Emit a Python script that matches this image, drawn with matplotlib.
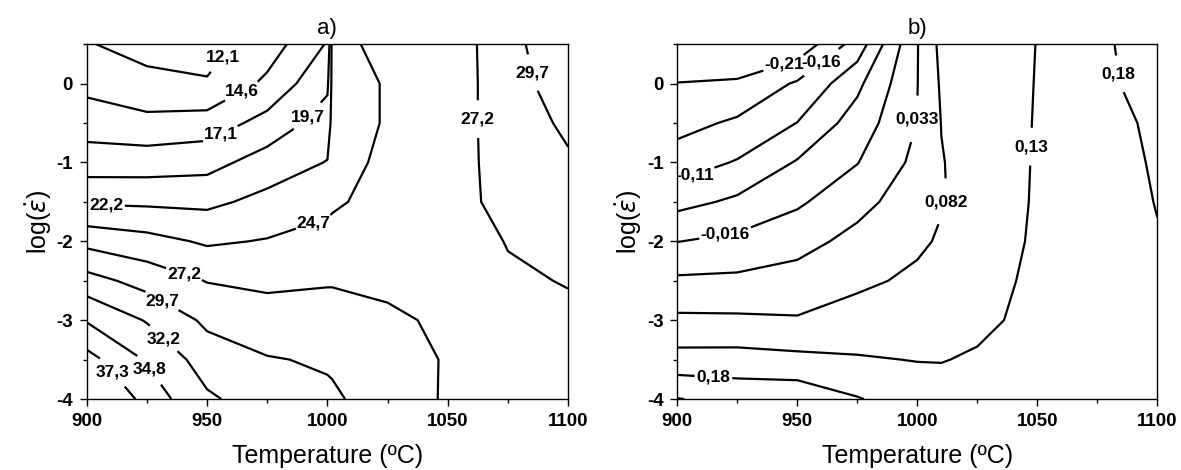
import numpy as np
import matplotlib
matplotlib.use('Agg')
import matplotlib.pyplot as plt
from matplotlib.ticker import MultipleLocator

plt.rcParams['font.family'] = ['Liberation Sans', 'DejaVu Sans']
plt.rcParams['axes.unicode_minus'] = False

# log strain rate rows (bottom -> top)
rates = [-4, -3.5, -3, -2.5, -2, -1.5, -1, -0.5, 0, 0.5]

# panel a) values, one list per temperature column (bottom -> top)
temps_a = [900, 925, 950, 975, 1000, 1002, 1025, 1050, 1075, 1100]
za_900 = [41.5, 38.2, 34.6, 30.65, 26.45, 21.9, 18.4, 15.9, 13.9, 12.3]
za_925 = [36.3, 34.55, 32.0, 28.75, 25.55, 21.76, 18.46, 15.24, 12.97, 11.0]
za_950 = [32.6, 30.98, 29.2, 27.1, 24.37, 21.65, 18.8, 15.7, 12.3, 11.2]
za_975 = [30.9, 29.85, 28.3, 26.7, 24.85, 22.9, 20.84, 18.0, 15.14, 13.3]
za_1000 = [30.1, 29.45, 28.2, 27.0, 25.6, 24.07, 22.3, 20.9, 19.2, 17.3]
za_1002 = [30.0, 29.4, 28.2, 27.0, 25.7, 24.3, 22.5, 22.9, 22.9, 23.0]
za_1025 = [28.7, 28.3, 27.6, 26.7, 26.1, 25.7, 25.9, 25.0, 25.0, 26.3]
za_1050 = [26.9, 27.0, 26.8, 26.4, 26.0, 25.7, 25.6, 25.6, 25.6, 25.6]
za_1075 = [26.6, 26.6, 26.7, 26.9, 27.3, 28.4, 28.7, 28.8, 28.8, 28.9]
za_1100 = [26.5, 26.6, 26.8, 27.3, 28.3, 29.0, 29.5, 30.0, 30.85, 31.6]
levels_a = [12.1, 14.6, 17.1, 19.7, 22.2, 24.7, 27.2, 29.7, 32.2, 34.8, 37.3]

# panel b) values
temps_b = [900, 925, 950, 975, 1000, 1010, 1025, 1050, 1075, 1100]
zb_900 = [0.232, 0.147, 0.0914, 0.041, -0.017, -0.08, -0.1355, -0.177, -0.209, -0.245]
zb_925 = [0.215, 0.148, 0.090, 0.043, -0.0045, -0.0565, -0.1061, -0.1518, -0.2036, -0.257]
zb_950 = [0.215, 0.1417, 0.086, 0.052, 0.0161, -0.0235, -0.0612, -0.109, -0.1533, -0.2475]
zb_975 = [0.183, 0.134, 0.1017, 0.0728, 0.0473, 0.0174, -0.0176, -0.0436, -0.076, -0.137]
zb_1000 = [0.155, 0.1285, 0.1096, 0.0907, 0.0743, 0.06, 0.0458, 0.034, 0.032, 0.031]
zb_1010 = [0.152, 0.128, 0.111, 0.095, 0.087, 0.079, 0.080, 0.083, 0.088, 0.095]
zb_1025 = [0.152, 0.136, 0.118, 0.108, 0.103, 0.10, 0.10, 0.10, 0.10, 0.10]
zb_1050 = [0.150, 0.148, 0.145, 0.142, 0.137, 0.135, 0.134, 0.133, 0.132, 0.131]
zb_1075 = [0.15, 0.15, 0.15, 0.15, 0.15, 0.152, 0.155, 0.16, 0.165, 0.168]
zb_1100 = [0.163, 0.165, 0.168, 0.172, 0.177, 0.182, 0.186, 0.19, 0.205, 0.21]
levels_b = [-0.21, -0.16, -0.11, -0.065, -0.016, 0.033, 0.082, 0.13, 0.18, 0.23]

# where the contour labels sit
label_pos_a = [(958, 0.3), (964, -0.08), (956, -0.67), (992, -0.42), (908, -1.55),
               (995, -1.83), (940, -2.45), (1062, -0.45), (931, -2.77), (1084, 0.13),
               (932, -3.23), (926, -3.63), (910, -3.68)]
label_pos_b = [(945, 0.2), (960, 0.27), (908, -1.23), (920, -1.9), (999, -0.45),
               (1012, -1.5), (1048, -0.8), (1084, 0.12), (915, -3.75)]

Za = np.array([za_900, za_925, za_950, za_975, za_1000, za_1002,
               za_1025, za_1050, za_1075, za_1100]).T
Zb = np.array([zb_900, zb_925, zb_950, zb_975, zb_1000, zb_1010,
               zb_1025, zb_1050, zb_1075, zb_1100]).T


def fmt_comma(v):
    return ('%g' % v).replace('.', ',')


fig = plt.figure(figsize=(11.81, 4.70), dpi=100)
ax1 = fig.add_axes([0.0735, 0.151, 0.4075, 0.755])
ax2 = fig.add_axes([0.5735, 0.151, 0.4065, 0.755])

panels = [
    (ax1, temps_a, Za, levels_a, label_pos_a, 'a)'),
    (ax2, temps_b, Zb, levels_b, label_pos_b, 'b)'),
]

for ax, temps, Z, levels, lab_pos, title in panels:
    cs = ax.contour(temps, rates, Z, levels=levels, colors='k',
                    linewidths=1.6, linestyles='solid')
    texts = ax.clabel(cs, inline=True, inline_spacing=2,
                      fmt={lv: fmt_comma(lv) for lv in levels},
                      fontsize=12.5, manual=lab_pos)
    for t in texts:
        t.set_rotation(0)
        t.set_fontweight('bold')

    ax.set_xlim(900, 1100)
    ax.set_ylim(-4, 0.5)
    ax.xaxis.set_major_locator(MultipleLocator(50))
    ax.xaxis.set_minor_locator(MultipleLocator(25))
    ax.yaxis.set_major_locator(MultipleLocator(1))
    ax.yaxis.set_minor_locator(MultipleLocator(0.5))
    ax.tick_params(which='both', direction='out', top=False, right=False,
                   labelsize=13.5, width=1, pad=5)
    ax.tick_params(which='major', length=5)
    ax.tick_params(which='minor', length=3)
    for lbl in ax.get_xticklabels() + ax.get_yticklabels():
        lbl.set_fontweight('bold')
    for sp in ax.spines.values():
        sp.set_linewidth(1)
    ax.set_xlabel('Temperature (ºC)', fontsize=18, labelpad=10)
    ax.set_ylabel(r'log($\dot{\varepsilon}$)', fontsize=18, labelpad=2)
    ax.set_title(title, fontsize=16, pad=7)

fig.savefig('out.png', dpi=100)
